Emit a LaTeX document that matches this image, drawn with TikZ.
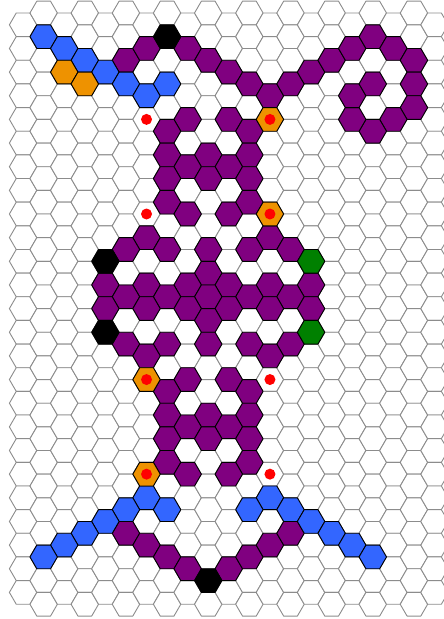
\documentclass[tikz,border=0pt]{standalone}
\definecolor{hpurple}{RGB}{128,0,128}
\definecolor{hblue}{RGB}{51,102,255}
\definecolor{horange}{RGB}{238,146,0}
\definecolor{hgreen}{RGB}{0,128,0}
\definecolor{hgrid}{RGB}{140,140,140}
\definecolor{hred}{RGB}{255,0,0}
\tikzset{
  gridcell/.style={draw=hgrid,line width=0.9pt,fill=white,line join=round},
  colcell/.style={draw=black,line width=0.9pt,fill=#1,line join=round},
  reddot/.style={fill=hred}
}
\newcommand\hexcell[3]{%
  \pgfmathsetmacro\hx{23.1+20.57*#1}%
  \pgfmathsetmacro\hy{(mod(#1,2)==1?13:24.8)+23.65*#2}%
  \path[#3] (\hx+13.713,\hy) -- ++(-6.857,11.825) -- ++(-13.713,0) -- ++(-6.857,-11.825) -- ++(6.857,-11.825) -- ++(13.713,0) -- cycle;}
\newcommand\dotcell[2]{%
  \pgfmathsetmacro\hx{23.1+20.57*#1}%
  \pgfmathsetmacro\hy{(mod(#1,2)==1?13:24.8)+23.65*#2}%
  \path[reddot] (\hx,\hy) circle (5.5);}
\begin{document}
\begin{tikzpicture}[x=1pt,y=-1pt]
\useasboundingbox (0,0) rectangle (444,619);
\clip (0,0) rectangle (444,619);
\fill[white] (0,0) rectangle (444,619);
% grid
\foreach \c in {0,...,20}{
  \pgfmathtruncatemacro\rmax{mod(\c,2)==1?25:24}
  \foreach \r in {0,...,\rmax}{\hexcell{\c}{\r}{gridcell}}
}
% purple
\foreach \c/\r in {5/2,6/1,8/1,9/2,10/2,11/3,12/3,13/3,14/2,15/2,16/1,17/1,18/1,19/2,19/3,19/4,18/4,17/5,16/4,16/3,17/3,
  8/4,10/4,7/5,11/5,7/6,9/6,11/6,8/6,10/6,7/7,9/7,11/7,7/8,11/8,8/8,10/8,6/9,12/9,
  5/10,7/10,9/10,11/10,13/10,9/11,4/11,6/11,8/11,10/11,12/11,14/11,5/12,7/12,9/12,11/12,13/12,
  4/12,6/12,8/12,10/12,12/12,14/12,9/13,5/14,7/14,9/14,11/14,13/14,
  6/14,12/14,8/15,10/15,7/16,11/16,7/17,9/17,11/17,8/17,10/17,7/18,9/18,11/18,7/19,11/19,8/19,10/19,
  5/22,6/22,7/23,8/23,10/23,11/23,12/22,13/22}
  {\hexcell{\c}{\r}{colcell=hpurple}}
% blue
\foreach \c/\r in {1/1,2/1,3/2,4/2,5/3,6/3,7/3,6/20,5/21,4/21,3/22,2/22,1/23,7/21,
  12/20,11/21,13/21,14/21,15/22,16/22,17/23}
  {\hexcell{\c}{\r}{colcell=hblue}}
% orange
\foreach \c/\r in {2/2,3/3,12/4,12/8,6/15,6/19}
  {\hexcell{\c}{\r}{colcell=horange}}
% black
\foreach \c/\r in {7/1,4/10,4/13,9/24}
  {\hexcell{\c}{\r}{colcell=black}}
% green
\foreach \c/\r in {14/10,14/13}
  {\hexcell{\c}{\r}{colcell=hgreen}}
% red dots
\foreach \c/\r in {6/4,6/8,12/15,12/19,12/4,12/8,6/15,6/19}
  {\dotcell{\c}{\r}}
\end{tikzpicture}
\end{document}
